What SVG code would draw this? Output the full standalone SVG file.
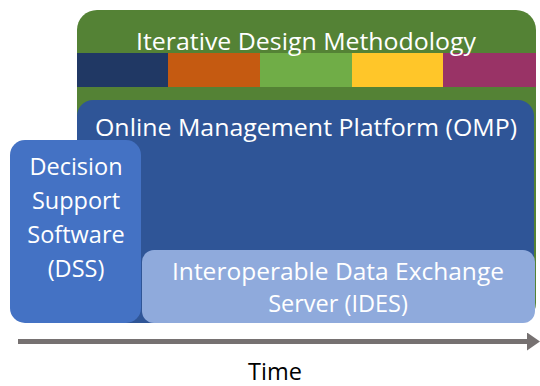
<svg xmlns="http://www.w3.org/2000/svg" width="540" height="386" viewBox="0 0 540 386">
<style>
text{font-family:"Open Sans","Liberation Sans",sans-serif;fill:#ffffff;text-anchor:middle}
.t{font-size:23.5px}
</style>
<defs>
<marker id="ah" markerWidth="13" markerHeight="18" refX="1" refY="9" orient="auto" markerUnits="userSpaceOnUse" viewBox="0 0 13 18">
<path d="M0,0 L13,9 L0,18 Z" fill="#767171"/>
</marker>
<clipPath id="gclip"><rect x="77" y="10" width="459" height="313" rx="20"/></clipPath>
</defs>
<rect width="540" height="386" fill="#ffffff"/>
<g id="idm">
<rect x="77" y="10" width="459" height="313" rx="20" fill="#548235"/>
<g clip-path="url(#gclip)">
<rect x="77" y="53" width="91" height="34" fill="#203864"/>
<rect x="168" y="53" width="92" height="34" fill="#C55A11"/>
<rect x="260" y="53" width="92" height="34" fill="#70AD47"/>
<rect x="352" y="53" width="91" height="34" fill="#FFC629"/>
<rect x="443" y="53" width="93" height="34" fill="#993366"/>
</g>
<text class="t" x="306" y="50" textLength="340" lengthAdjust="spacingAndGlyphs">Iterative Design Methodology</text>
</g>
<g id="omp">
<rect x="77" y="100" width="457" height="223" rx="16" fill="#2F5597"/>
<text class="t" x="306" y="136" textLength="422" lengthAdjust="spacingAndGlyphs">Online Management Platform (OMP)</text>
</g>
<g id="dss">
<rect x="10" y="140" width="131" height="183" rx="15" fill="#4472C4"/>
<text class="t" x="76" y="175">Decision</text>
<text class="t" x="76" y="209">Support</text>
<text class="t" x="76" y="243">Software</text>
<text class="t" x="76" y="277">(DSS)</text>
</g>
<g id="ides">
<rect x="142" y="250" width="393" height="73" rx="12" fill="#8FAADC"/>
<text class="t" x="338" y="280" textLength="332" lengthAdjust="spacingAndGlyphs">Interoperable Data Exchange</text>
<text class="t" x="338" y="312">Server (IDES)</text>
</g>
<g id="connectors">
<line x1="18" y1="341.5" x2="528" y2="341.5" stroke="#767171" stroke-width="5" marker-end="url(#ah)"/>
</g>
<text class="t" x="275" y="380" style="fill:#000000">Time</text>
</svg>
